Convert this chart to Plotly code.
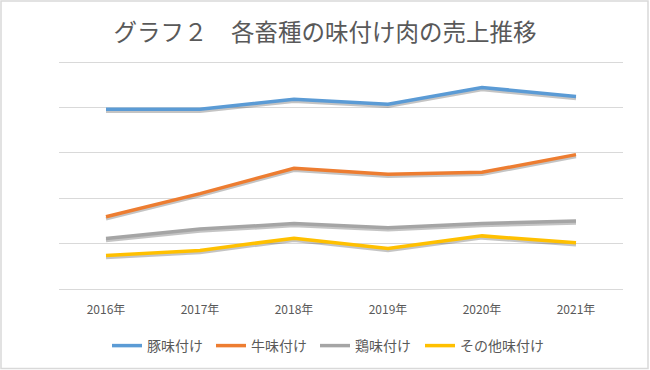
import plotly.graph_objects as go

years = ["2016年", "2017年", "2018年", "2019年", "2020年", "2021年"]
pork = [3.96, 3.96, 4.18, 4.07, 4.44, 4.24]
beef = [1.59, 2.10, 2.66, 2.53, 2.57, 2.96]
chicken = [1.11, 1.32, 1.44, 1.35, 1.44, 1.50]
other = [0.74, 0.85, 1.12, 0.89, 1.17, 1.02]

names = ["豚味付け", "牛味付け", "鶏味付け", "その他味付け"]
series = [pork, beef, chicken, other]
colors = ["#5B9BD5", "#ED7D31", "#A5A5A5", "#FFC000"]
legend_ids = ["legend", "legend", "legend", "legend2"]

W, H = 650, 370
ML, MR, MT, MB = 59, 27, 60, 81
PH = H - MT - MB          # 229 px; grid unit ~45.4 px
YTOP = 5 * PH / 227       # top gridline (5) sits ~2px below the plot edge
shadow_shift = 2.0 * YTOP / PH  # ~2px downward shadow

fig = go.Figure()
# shadows (base axis, range shifted so they sit ~2px lower)
for vals in series:
    fig.add_trace(go.Scatter(x=years, y=vals, mode="lines", yaxis="y",
                             line=dict(color="rgba(60,60,60,0.30)", width=3.5),
                             showlegend=False, hoverinfo="skip"))
for n, vals, c, lg in zip(names, series, colors, legend_ids):
    fig.add_trace(go.Scatter(x=years, y=vals, mode="lines", name=n, yaxis="y2",
                             line=dict(color=c, width=3.5), legend=lg))

font_main = "Noto Sans CJK JP, Noto Sans, sans-serif"
leg_common = dict(orientation="h", xref="container", yref="container",
                  y=1 - 346 / H, yanchor="middle", xanchor="left",
                  font=dict(size=14, color="#595959"), traceorder="normal",
                  bgcolor="rgba(0,0,0,0)")
fig.update_layout(
    width=W, height=H,
    margin=dict(l=ML, r=MR, t=MT, b=MB, autoexpand=False),
    paper_bgcolor="white", plot_bgcolor="white",
    font=dict(family=font_main, color="#595959", size=12),
    title=dict(text="グラフ２　各畜種の味付け肉の売上推移", x=0.5, xref="container",
               xanchor="center", y=1 - 33 / H, yref="container", yanchor="middle",
               font=dict(size=23.5, color="#595959", family=font_main)),
    xaxis=dict(type="category", range=[-0.5, 5.5], showgrid=False,
               showline=False, ticks="", tickfont=dict(size=12, color="#595959"),
               ticklabelstandoff=12),
    yaxis=dict(range=[shadow_shift, YTOP + shadow_shift], showgrid=False,
               showticklabels=False, zeroline=False, visible=False),
    yaxis2=dict(range=[0, YTOP], dtick=1, overlaying="y", showgrid=True,
                gridcolor="#D9D9D9", gridwidth=1, showticklabels=False,
                ticks="", zeroline=True, zerolinecolor="#D9D9D9", zerolinewidth=1),
    legend=dict(x=107 / W, entrywidth=59, **leg_common),
    legend2=dict(x=420 / W, entrywidth=0, **leg_common),
    showlegend=True,
)

# outer frame of the chart
pw = W - ML - MR
fig.add_shape(type="rect", xref="paper", yref="paper",
              x0=-(ML - 1) / pw, x1=1 + (MR - 2) / pw,
              y0=-(MB - 1.5) / PH, y1=1 + (MT - 1) / PH,
              line=dict(color="#D9D9D9", width=1.5), layer="below")

fig.write_html("out.html", config={"displayModeBar": False},
               post_script="document.body.style.margin='0';document.body.style.overflow='hidden';")
